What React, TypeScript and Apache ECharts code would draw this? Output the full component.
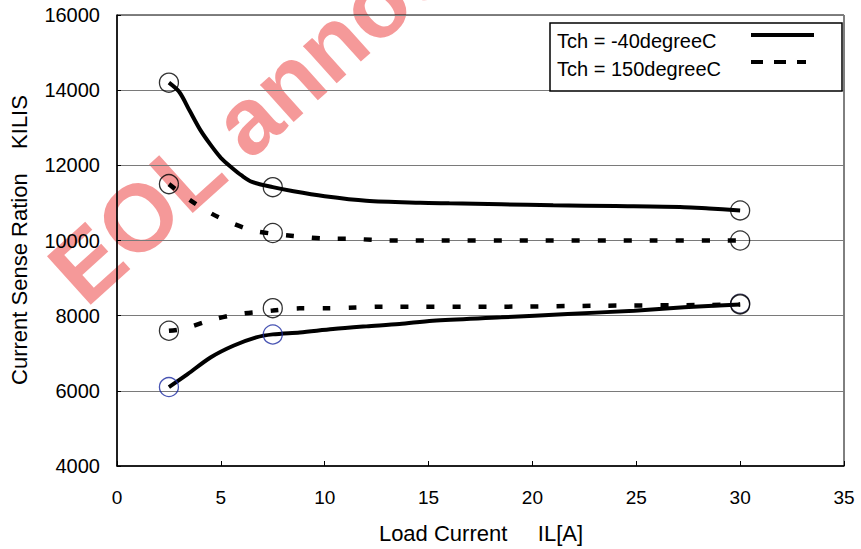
import React, { useEffect, useRef } from "react";
import * as echarts from "echarts";

// Tch = -40degreeC, upper curve
const coldUpperX = [2.5, 3, 3.5, 4, 4.5, 5, 5.5, 6, 6.5, 7.5, 8.5, 10, 12, 14.6, 16, 18.5, 21, 24, 27.3, 28.5, 30];
const coldUpperY = [14200, 13950, 13450, 12950, 12550, 12200, 11950, 11730, 11560, 11420, 11310, 11180, 11060, 11005, 10990, 10965, 10935, 10915, 10888, 10850, 10800];
// Tch = -40degreeC, lower curve
const coldLowerX = [2.5, 3.4, 4.5, 5.6, 6.7, 7.5, 8.8, 10.4, 12, 13.6, 15.2, 18.5, 21.7, 24.9, 27.3, 30];
const coldLowerY = [6100, 6445, 6888, 7200, 7422, 7502, 7555, 7645, 7715, 7778, 7867, 7955, 8045, 8133, 8222, 8300];
// Tch = 150degreeC, upper curve
const hotUpperX = [2.5, 3.5, 4.5, 5.5, 6.5, 7.5, 8.5, 10, 11.5, 13, 15, 20, 25, 30];
const hotUpperY = [11500, 11080, 10730, 10470, 10270, 10180, 10120, 10050, 10040, 10000, 10000, 10000, 10000, 10000];
// Tch = 150degreeC, lower curve
const hotLowerX = [2.5, 3.2, 4.7, 5.9, 7.5, 8.8, 10.1, 11.5, 12.8, 18.5, 23.3, 28.6, 30];
const hotLowerY = [7600, 7650, 7910, 8045, 8135, 8195, 8195, 8220, 8240, 8240, 8265, 8285, 8300];

// measured points (circle markers)
const markerX = [2.5, 7.5, 30];
const coldUpperMarks = [14200, 11420, 10800];
const coldLowerMarks = [6100, 7500, 8320];
const hotUpperMarks = [11500, 10200, 10000];
const hotLowerMarks = [7600, 8200, 8300];
const coldLowerMarkColors = ["#1c2aa0", "#1c2aa0", "#10103a"];

const legendNames = ["Tch = -40degreeC", "Tch = 150degreeC"];
const xTitle = "Load Current     IL[A]";
const yTitle = "Current Sense Ration    KILIS";
const watermark = "EOL announced";

const FONT = "'Liberation Sans', Arial, Helvetica, sans-serif";

const pairs = (xs: number[], ys: number[]) => xs.map((x, i) => [x, ys[i]]);

export default function App() {
  const ref = useRef<HTMLDivElement>(null);
  useEffect(() => {
    document.body.style.margin = "0";
    const chart = echarts.init(ref.current!, null, { renderer: "svg" });
    const lineSeries = (xs: number[], ys: number[], dashed: boolean) => ({
      type: "line",
      data: pairs(xs, ys),
      symbol: "none",
      showSymbol: false,
      smooth: 0.3,
      silent: true,
      z: 3,
      lineStyle: { color: "#000", width: dashed ? 4.5 : 4, type: dashed ? [8, 18] : "solid", cap: "butt" },
    });
    const markSeries = (ys: number[], colors?: string[]) => ({
      type: "scatter",
      symbol: "circle",
      symbolSize: 19,
      silent: true,
      z: 4,
      data: markerX.map((x, i) => ({
        value: [x, ys[i]],
        itemStyle: { borderColor: colors ? colors[i] : "#000" },
      })),
      itemStyle: { color: "rgba(0,0,0,0)", borderColor: "#000", borderWidth: 1.3 },
    });
    chart.setOption({
      animation: false,
      textStyle: { fontFamily: FONT },
      grid: {
        left: 117,
        right: 17,
        top: 15,
        bottom: 83,
        show: true,
        borderColor: "#000",
        borderWidth: 1,
      },
      xAxis: {
        type: "value",
        min: 0,
        max: 35,
        interval: 5,
        axisLine: { show: true, onZero: false, lineStyle: { color: "#000", width: 1.5 } },
        axisTick: { show: true, inside: true, length: 5, lineStyle: { color: "#000" } },
        axisLabel: { color: "#000", fontSize: 19, margin: 22, fontFamily: FONT },
        splitLine: { show: false },
      },
      yAxis: {
        type: "value",
        min: 4000,
        max: 16000,
        interval: 2000,
        axisLine: { show: true, lineStyle: { color: "#000", width: 1.5 } },
        axisTick: { show: true, inside: true, length: 4, lineStyle: { color: "#000" } },
        axisLabel: {
          color: "#000",
          fontSize: 20,
          margin: 17,
          fontFamily: FONT,
          formatter: (v: number) => String(v),
        },
        splitLine: { show: true, lineStyle: { color: "#7a7a7a", width: 1 } },
      },
      series: [
        lineSeries(coldUpperX, coldUpperY, false),
        lineSeries(coldLowerX, coldLowerY, false),
        lineSeries(hotUpperX, hotUpperY, true),
        lineSeries(hotLowerX, hotLowerY, true),
        markSeries(coldUpperMarks),
        markSeries(coldLowerMarks, coldLowerMarkColors),
        markSeries(hotUpperMarks),
        markSeries(hotLowerMarks),
      ],
      graphic: [
        {
          type: "text",
          x: 86,
          y: 309,
          rotation: (42 * Math.PI) / 180,
          z: -10,
          silent: true,
          style: {
            text: watermark,
            x: 0,
            y: -33,
            font: `bold 95px ${FONT}`,
            fill: "rgba(238, 80, 80, 0.58)",
            align: "left",
            verticalAlign: "middle",
          },
        },
        {
          type: "text",
          x: 19,
          y: 240,
          rotation: Math.PI / 2,
          style: {
            text: yTitle,
            font: `22px ${FONT}`,
            fill: "#000",
            align: "center",
            verticalAlign: "middle",
          },
        },
        {
          type: "text",
          x: 481,
          y: 533,
          style: {
            text: xTitle,
            font: `22px ${FONT}`,
            fill: "#000",
            align: "center",
            verticalAlign: "middle",
          },
        },
        {
          type: "rect",
          z: 100,
          shape: { x: 550, y: 23, width: 292, height: 68 },
          style: { fill: "#fff", stroke: "#000", lineWidth: 1.5 },
        },
        {
          type: "text",
          z: 101,
          x: 557,
          y: 41,
          style: { text: legendNames[0], font: `20px ${FONT}`, fill: "#000", align: "left", verticalAlign: "middle" },
        },
        {
          type: "text",
          z: 101,
          x: 557,
          y: 69,
          style: { text: legendNames[1], font: `20px ${FONT}`, fill: "#000", align: "left", verticalAlign: "middle" },
        },
        {
          type: "line",
          z: 101,
          shape: { x1: 751, y1: 35, x2: 814, y2: 35 },
          style: { stroke: "#000", lineWidth: 4 },
        },
        {
          type: "line",
          z: 101,
          shape: { x1: 751, y1: 62, x2: 806, y2: 62 },
          style: { stroke: "#000", lineWidth: 4, lineDash: [12, 11] },
        },
      ],
    });
    return () => chart.dispose();
  }, []);
  return <div ref={ref} style={{ width: 861, height: 549 }} />;
}
